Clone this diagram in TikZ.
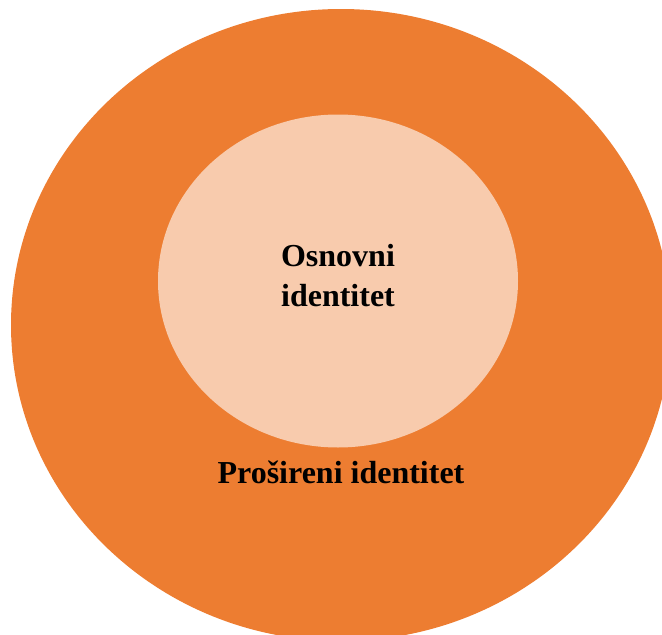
\documentclass[tikz,border=0pt]{standalone}
\usepackage{fontspec}
\setmainfont{Liberation Serif}
\usetikzlibrary{shapes.geometric}
\definecolor{outerorange}{HTML}{ED7D31}
\definecolor{innerpeach}{HTML}{F8CBAD}
\tikzset{
  lbl/.style={font=\bfseries\fontsize{32}{40}\selectfont, text=black, anchor=base, inner sep=0pt},
  disc/.style={ellipse, inner sep=0pt, draw=none}
}
\begin{document}
\begin{tikzpicture}[x=1pt,y=-1pt]
\useasboundingbox (0,0) rectangle (662,635);
\clip (0,0) rectangle (662,635);
\node[disc, fill=outerorange, minimum width=660pt, minimum height=632pt] (outer) at (341,325) {};
\node[disc, fill=innerpeach, minimum width=360pt, minimum height=333pt] (inner) at (338,281) {};
\node[lbl] (osn) at (338,266) {Osnovni};
\node[lbl] (ide) at (338,306) {identitet};
\node[lbl] (pro) at (341,483) {Prošireni identitet};
\end{tikzpicture}
\end{document}
